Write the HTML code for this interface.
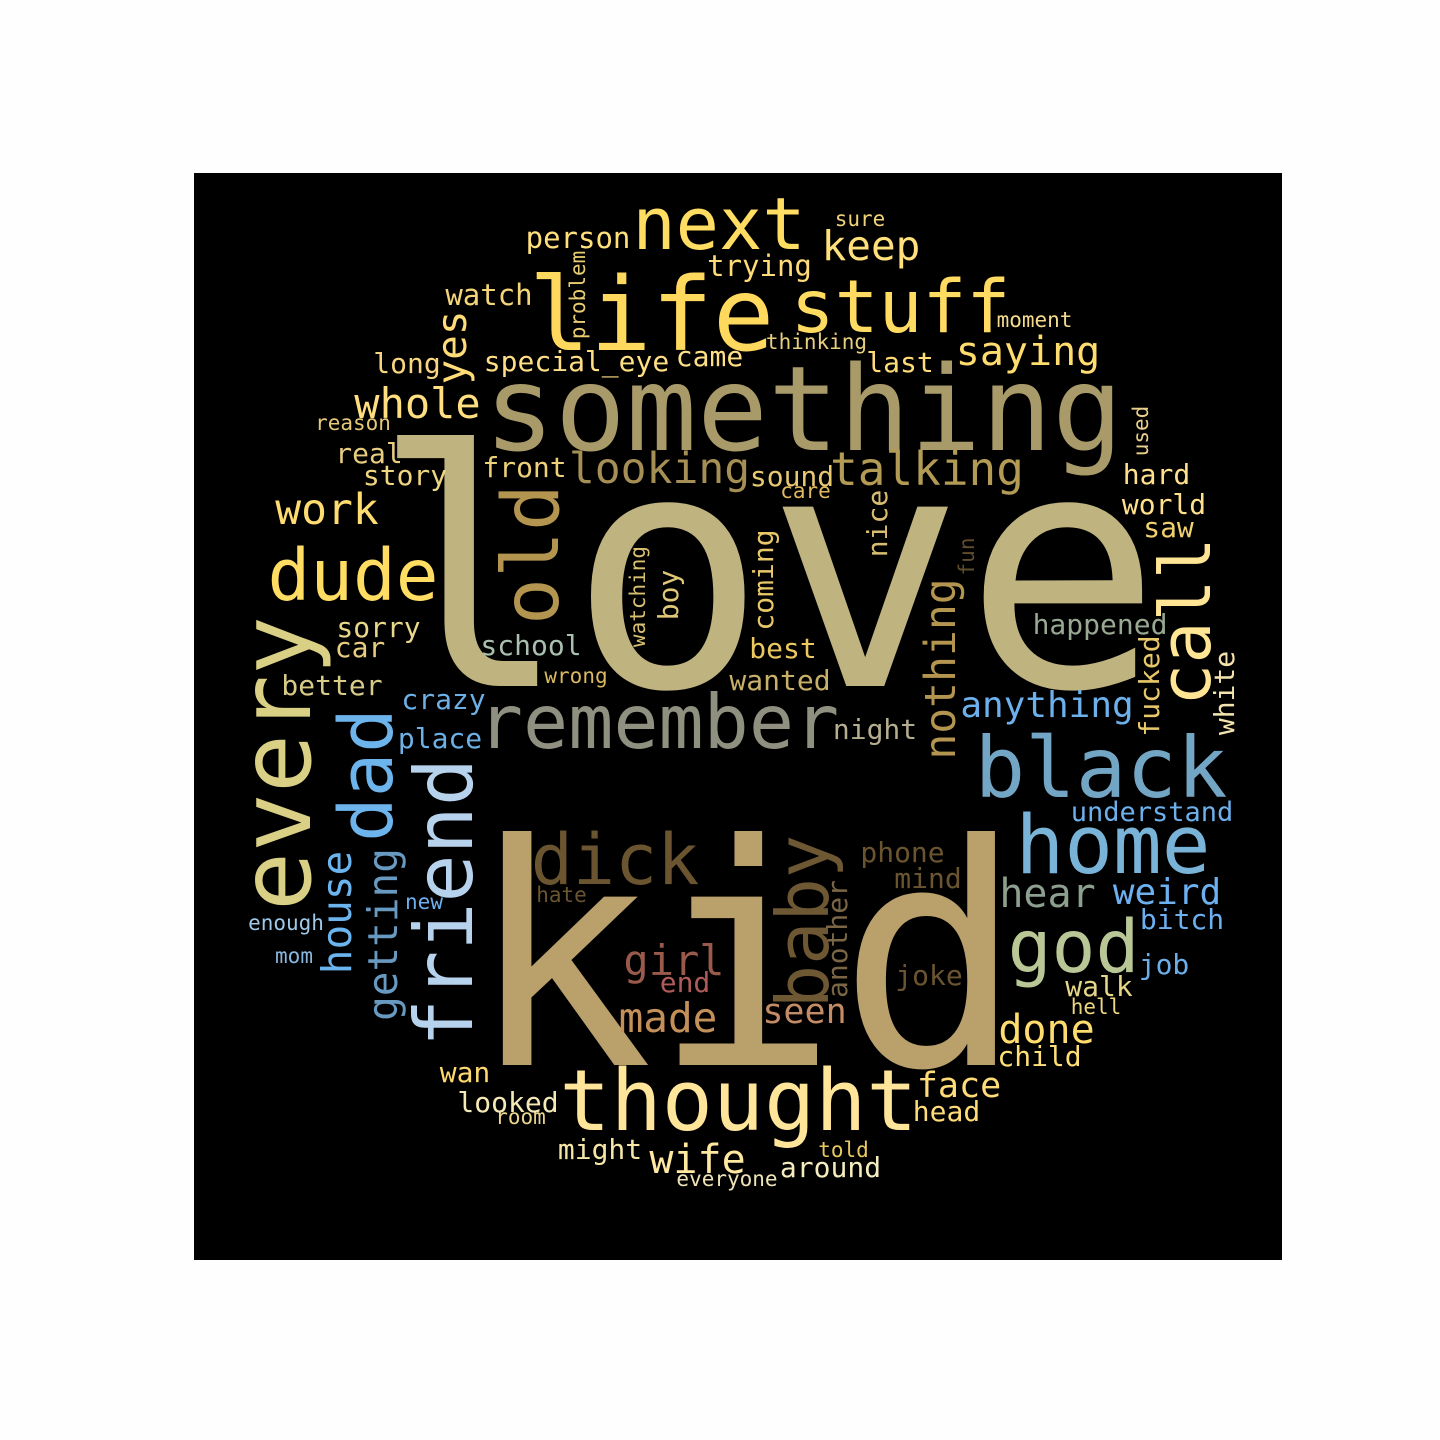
<!DOCTYPE html>
<html lang="en">
<head>
<meta charset="utf-8">
<title>Word cloud</title>
<style>
html,body{margin:0;padding:0;background:#fff;width:1440px;height:1440px;overflow:hidden}
svg{display:block}
text{font-family:"DejaVu Sans Mono","Liberation Mono",monospace}
</style>
</head>
<body>
<svg id="cloud" xmlns="http://www.w3.org/2000/svg" width="1440" height="1440" viewBox="0 0 1440 1440">
<rect x="0" y="0" width="1440" height="1440" fill="#fefefe"/>
<rect x="194" y="173" width="1088" height="1087" fill="#000"/>
</svg>
<script>
const words = [
"love","kid","something","remember","life","stuff","next","keep","person","sure",
"trying","watch","moment","problem","yes","long","special_eye","came","thinking","last",
"saying","whole","reason","real","story","front","looking","sound","talking","care",
"used","hard","world","saw","work","dude","old","nice","fun","coming",
"watching","boy","nothing","call","happened","sorry","car","every","school","wrong",
"best","wanted","better","crazy","place","anything","fucked","white","night","dad",
"black","understand","home","friend","house","getting","dick","baby","another","phone",
"mind","hear","weird","bitch","new","hate","enough","mom","god","job",
"girl","end","joke","walk","hell","made","seen","done","child","wan",
"thought","face","head","looked","room","might","told","wife","around","everyone"
];
const weights = [
328,308,118,75,102,73,72,41,29,21,
29,29,21,21,41,28,28,28,21,28,
40,42,21,28,28,28,43,28,46,21,
21,28,28,28,43,71,78,28,21,28,
21,28,43,70,28,28,28,98,28,21,
28,28,28,28,28,36,28,28,28,74,
84,27,81,80,41,41,70,72,28,28,
28,40,36,28,21,21,21,21,73,28,
42,28,28,28,21,41,35,40,28,28,
85,35,28,28,21,28,21,40,28,21
];
const colors = [
"#bfb47f","#baa06b","#a99a6a","#8f9080","#ffd85e","#ffdb62","#ffdc62","#ffe07a","#ffe07a","#f0d27a",
"#ffdc78","#f4d678","#f5dc8c","#e8cc70","#ffdc78","#f6d680","#ffdf85","#ffdf85","#e8cf80","#ffdc78",
"#ffdc6e","#ffdf80","#e6c878","#e8cd80","#eed580","#ecd07a","#a58f55","#e8c870","#b39a55","#e0b860",
"#ead08a","#ffe08c","#ffe08c","#f0d070","#ffdc70","#ffdc62","#b3954f","#d8bd70","#5f4d2c","#e8c868",
"#d8c070","#e0c878","#b3954f","#ffe594","#99a892","#e8d88a","#e8cd80","#d9cf85","#a9c0b0","#d8b860",
"#ecc860","#c8b068","#d8cb88","#6cb0e6","#6cb0e6","#6cb0ec","#e8c868","#f3e3ae","#b5ad90","#6eb4ec",
"#73a6c4","#6cb0ec","#79b4d8","#b7d2ec","#6cb4ee","#6899c0","#6b5530","#6e5733","#7a6545","#6b5530",
"#6b5530","#8d9f8f","#6cb0f0","#6cb0f0","#6cb0f0","#6b5530","#a0c8e8","#88b8e0","#b9c796","#6caee8",
"#9a5a4b","#b05a5a","#6b5530","#e6d687","#ecd680","#c4905a","#c48c66","#ffdc6e","#ffdf78","#ffd970",
"#ffe59a","#ffdc78","#ffdc78","#f5eab5","#ecd68d","#f5e6a8","#e8c860","#ffe8a0","#f5ecc0","#eee3b8"
];
// Layout only: start, end and baseline of each word's slot; v marks upward-reading words.
const slots = {
love:[393,1140,686],kid:[496,995,1065],something:[487,1120,450],remember:[483,834,748],life:[533,770,350],
stuff:[793,1008,332],next:[635,803,249],keep:[822,920,260],person:[526,630,248],sure:[835,885,226],
trying:[708,811,276],watch:[446,532,305],moment:[997,1072,327],problem:[340,250,585,"v"],yes:[385,310,466,"v"],
long:[375,439,373],special_eye:[483,670,371],came:[676,743,366],thinking:[766,867,349],last:[867,933,372],
saying:[956,1100,365],whole:[354,481,418],reason:[315,391,430],real:[336,402,463],story:[365,445,485],
front:[483,566,477],looking:[569,750,483],sound:[749,835,486],talking:[830,1024,485],care:[780,831,498],
used:[457,405,1148,"v"],hard:[1122,1191,484],world:[1121,1207,514],saw:[1143,1194,537],work:[275,379,524],
dude:[269,437,600],old:[622,487,558,"v"],nice:[557,490,887,"v"],fun:[575,538,974,"v"],coming:[630,530,773,"v"],
watching:[647,546,645,"v"],boy:[620,570,678,"v"],nothing:[760,578,955,"v"],call:[703,540,1210,"v"],happened:[1031,1169,634],
sorry:[336,421,637],car:[335,385,657],every:[912,615,310,"v"],school:[480,582,655],wrong:[544,608,683],
best:[749,817,658],wanted:[728,832,690],better:[281,383,695],crazy:[401,486,709],place:[397,483,748],
anything:[961,1133,717],fucked:[737,635,1159,"v"],white:[736,650,1234,"v"],night:[833,917,739],dad:[840,710,392,"v"],
black:[976,1226,797],understand:[1071,1233,821],home:[1018,1208,873],friend:[1045,760,472,"v"],house:[975,850,351,"v"],
getting:[1021,848,397,"v"],dick:[532,698,884],baby:[1005,838,828,"v"],another:[998,880,847,"v"],phone:[860,945,862],
mind:[894,962,888],hear:[1000,1095,907],weird:[1113,1221,904],bitch:[1139,1225,929],new:[405,443,909],
hate:[536,587,902],enough:[248,324,930],mom:[275,313,963],god:[1009,1138,972],job:[1140,1188,974],
girl:[623,725,975],end:[660,710,992],joke:[895,963,985],walk:[1065,1133,996],hell:[1071,1121,1014],
made:[619,717,1032],seen:[762,847,1023],done:[998,1095,1043],child:[997,1082,1066],wan:[439,491,1082],
thought:[562,915,1130],face:[917,1001,1097],head:[912,981,1121],looked:[457,559,1112],room:[495,546,1124],
might:[558,642,1159],told:[818,869,1157],wife:[647,748,1173],around:[779,882,1177],everyone:[676,778,1186]
};
const MAX_FONT = 328;
const sizeScale = w => w * MAX_FONT / Math.max(...weights);
const svg = document.getElementById('cloud');
words.forEach((word, i) => {
  const [a, b, base, dir] = slots[word];
  const mid = (a + b) / 2;
  const el = document.createElementNS('http://www.w3.org/2000/svg', 'text');
  el.textContent = word;
  
  
  el.setAttribute('text-anchor', 'middle');
  el.setAttribute('font-size', sizeScale(weights[i]).toFixed(2));
  el.setAttribute('fill', colors[i]);
  el.setAttribute('transform', dir === 'v'
    ? 'translate(' + base + ' ' + mid + ') rotate(-90)'
    : 'translate(' + mid + ' ' + base + ')');
  svg.appendChild(el);
});
</script>
</body>
</html>
